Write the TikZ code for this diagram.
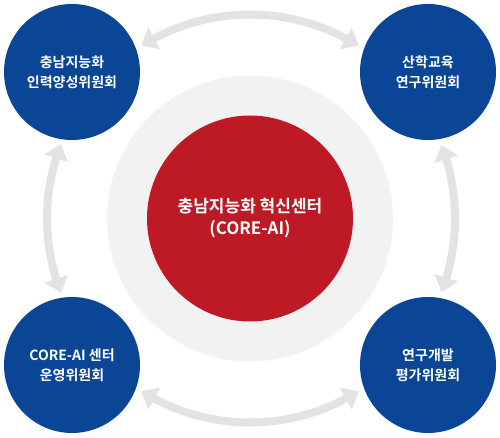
\documentclass[tikz,border=0pt]{standalone}
\usepackage{fontspec}
\setmainfont{Noto Sans CJK KR}[BoldFont={Noto Sans CJK KR Bold}]
\usetikzlibrary{arrows.meta, bending, positioning, calc}
\definecolor{councilblue}{HTML}{0B4596}
\definecolor{corered}{HTML}{BD1A26}
\definecolor{ringgray}{HTML}{F2F2F2}
\definecolor{arrowgray}{HTML}{E3E3E3}

\begin{document}
\begin{tikzpicture}[x=1pt, y=1pt,
  council/.style={circle, fill=councilblue, minimum size=136pt, inner sep=0pt, text=white, align=center, font=\fontsize{14}{20}\selectfont\bfseries},
  link/.style={draw=arrowgray, line width=8pt, {Triangle[width=24pt,length=15pt,bend]}-{Triangle[width=24pt,length=15pt,bend]}}]
\useasboundingbox (0,0) rectangle (500,438);
\coordinate (core) at (250,219.5);
\fill [ringgray] (core) circle [radius=143pt];
\node [circle, fill=corered, minimum size=206pt, inner sep=0pt, text=white, align=center, font=\fontsize{17}{22}\selectfont\bfseries] (centre) at (core) {충남지능화 혁신센터\\(CORE-AI)};
\draw [link] ($(core)+(122.2:204pt)$) arc [start angle=122.2, end angle=57.8, radius=204pt];
\draw [link] ($(core)+(21:205pt)$) arc [start angle=21, end angle=-21, radius=205pt];
\draw [link] ($(core)+(-57.8:204pt)$) arc [start angle=-57.8, end angle=-122.2, radius=204pt];
\draw [link] ($(core)+(158.5:203pt)$) arc [start angle=158.5, end angle=201.5, radius=203pt];
\node [council] (nurture) at (72,366) {충남지능화\\인력양성위원회};
\node [council] (edu) at (428,366) {산학교육\\연구위원회};
\node [council] (ops) at (72,73) {CORE-AI 센터\\운영위원회};
\node [council] (eval) at (428,73) {연구개발\\평가위원회};
\end{tikzpicture}
\end{document}
